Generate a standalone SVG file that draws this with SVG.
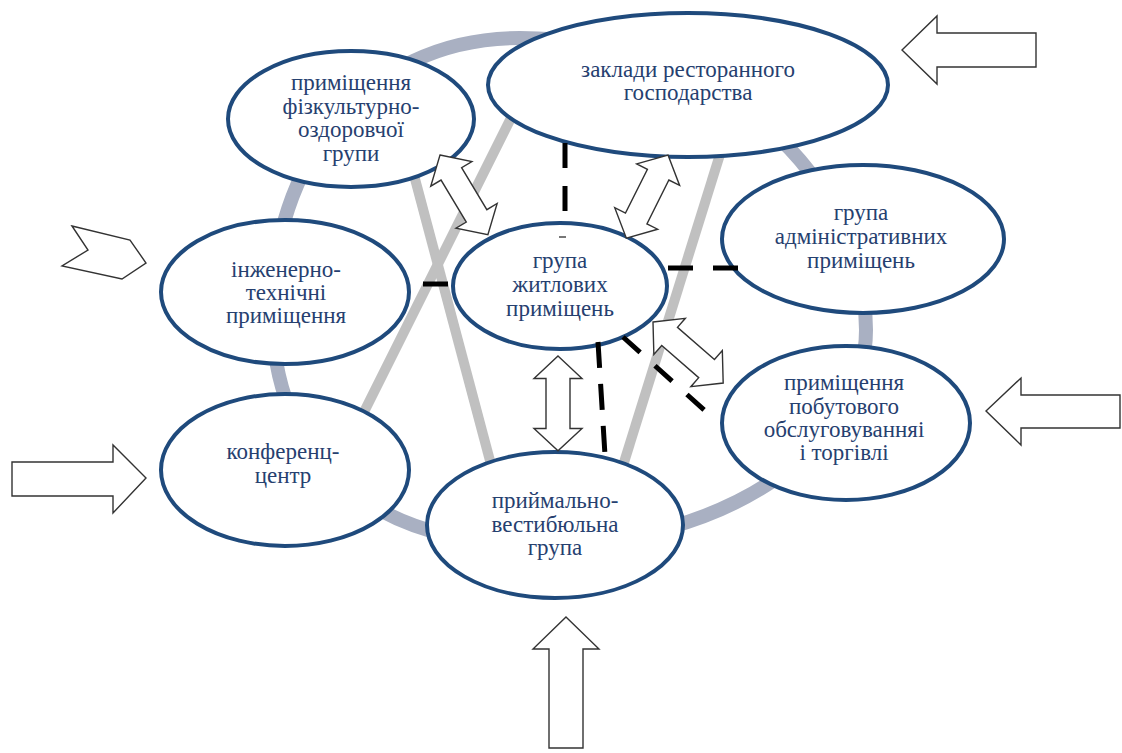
<svg xmlns="http://www.w3.org/2000/svg" width="1122" height="753" viewBox="0 0 1122 753">
<style>
.node{fill:#fff;stroke:#1f4a7c;stroke-width:4}
.lbl{font-family:"Liberation Serif","Times New Roman",serif;font-size:23px;fill:#26406f;text-anchor:middle}
.ring{fill:none;stroke:#a9b0c2;stroke-width:14}
.gray{stroke:#c0c0c0;stroke-width:10;fill:none}
.dash{stroke:#000;stroke-width:5;fill:none}
.blk{fill:#fff;stroke:#333;stroke-width:1.4;stroke-linejoin:miter}
</style>
<defs>
<polygon id="dbl" points="0,0 22,-24 22,-12 71,-12 71,-24 93,0 71,24 71,12 22,12 22,24" class="blk"/>
</defs>
<rect width="1122" height="753" fill="#fff"/>
<g id="connectors">
<path class="ring" d="M520,38 C720,38 866,180 866,330 C866,450 720,545 540,545 C370,545 272,460 272,310 C272,170 360,38 520,38 Z"/>
<line class="gray" x1="515" y1="110" x2="358" y2="424"/>
<line class="gray" x1="410" y1="160" x2="493" y2="472"/>
<line class="gray" x1="722" y1="148" x2="621" y2="472"/>
</g>
<g id="node-sport"><ellipse class="node" cx="351" cy="119" rx="123" ry="68"/>
<text class="lbl" x="351" y="90">приміщення</text><text class="lbl" x="351" y="113.5">фізкультурно-</text><text class="lbl" x="351" y="137">оздоровчої</text><text class="lbl" x="351" y="160.5">групи</text></g>
<g id="node-rest"><ellipse class="node" cx="688" cy="85" rx="200" ry="72"/>
<text class="lbl" x="688" y="77">заклади ресторанного</text><text class="lbl" x="688" y="100">господарства</text></g>
<g id="node-eng"><ellipse class="node" cx="285" cy="292" rx="124" ry="72"/>
<text class="lbl" x="286" y="277">інженерно-</text><text class="lbl" x="286" y="300">технічні</text><text class="lbl" x="286" y="323">приміщення</text></g>
<g id="node-conf"><ellipse class="node" cx="285" cy="470" rx="124" ry="76"/>
<text class="lbl" x="283" y="459">конференц-</text><text class="lbl" x="283" y="483">центр</text></g>
<g id="node-living"><ellipse class="node" cx="560" cy="286" rx="107" ry="63"/>
<rect x="559" y="236" width="7" height="2" fill="#777"/>
<text class="lbl" x="560" y="268">група</text><text class="lbl" x="560" y="292">житлових</text><text class="lbl" x="560" y="315.5">приміщень</text></g>
<g id="node-admin"><ellipse class="node" cx="863" cy="239" rx="141" ry="74"/>
<text class="lbl" x="861" y="220">група</text><text class="lbl" x="861" y="244">адміністративних</text><text class="lbl" x="861" y="267.5">приміщень</text></g>
<g id="node-service"><ellipse class="node" cx="846" cy="423" rx="124" ry="77"/>
<text class="lbl" x="844" y="390">приміщення</text><text class="lbl" x="844" y="413.5">побутового</text><text class="lbl" x="844" y="437">обслуговуванняі</text><text class="lbl" x="844" y="460">і торгівлі</text></g>
<g id="node-reception"><ellipse class="node" cx="555" cy="525" rx="128" ry="73"/>
<text class="lbl" x="555" y="508">приймально-</text><text class="lbl" x="555" y="531.5">вестибюльна</text><text class="lbl" x="555" y="555">група</text></g>
<g id="links">
<line class="dash" x1="565" y1="143" x2="565" y2="218" stroke-dasharray="25 18"/>
<line class="dash" x1="668" y1="268" x2="738" y2="268" stroke-dasharray="25 20"/>
<line class="dash" x1="423" y1="284" x2="448" y2="284"/>
<line class="dash" x1="623" y1="337" x2="712" y2="417" stroke-dasharray="23 20"/>
<line class="dash" x1="598" y1="342" x2="605" y2="455" stroke-dasharray="26 16"/>
<use href="#dbl" transform="translate(440,155) rotate(59)"/>
<use href="#dbl" transform="translate(668,155) rotate(116.6)"/>
<use href="#dbl" transform="translate(558,356) rotate(90) scale(1.02,1)"/>
<use href="#dbl" transform="translate(653,322) rotate(41)"/>
<polygon class="blk" points="902,50 937,16 937,33 1036,33 1036,67 937,67 937,84"/>
<polygon class="blk" points="986,411 1021,378 1021,395 1120,395 1120,428 1021,428 1021,445"/>
<polygon class="blk" points="12,462 113,462 113,445 146,478 113,513 113,496 12,496"/>
<polygon class="blk" points="72,226 130,240 146,263 122,279 62,266 88,250"/>
<polygon class="blk" points="566,617 599,649 583,649 583,748 549,748 549,649 533,649"/>
</g>
</svg>
